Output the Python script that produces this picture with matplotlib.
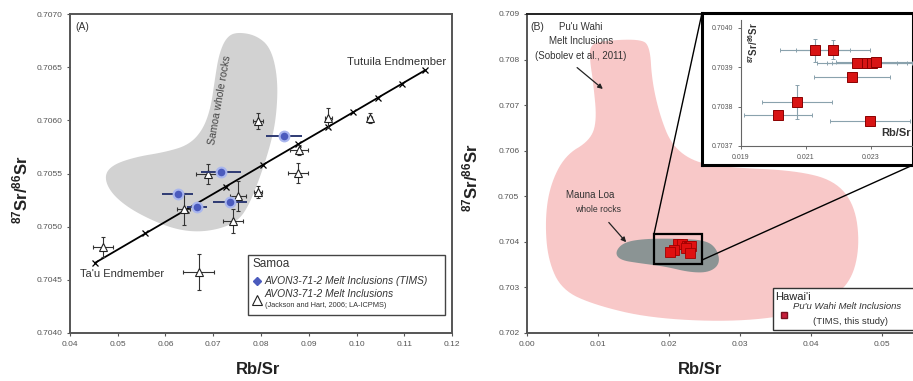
import matplotlib.pyplot as plt
import numpy as np
from matplotlib.patches import Polygon, Rectangle, ConnectionPatch
from matplotlib.ticker import FormatStrFormatter

plt.rcParams['font.family'] = ['Liberation Sans', 'DejaVu Sans']
plt.rcParams['mathtext.fontset'] = 'custom'
plt.rcParams['mathtext.rm'] = 'Liberation Sans'
plt.rcParams['mathtext.bf'] = 'Liberation Sans:bold'

# ---------------- Panel A : Samoa ----------------
# AVON3-71-2 melt inclusions, TIMS
tims_rbsr = [0.07158, 0.06253, 0.06653, 0.07347, 0.08484]
tims_sr = [0.705514, 0.705307, 0.705185, 0.705232, 0.705853]
tims_xerr = [0.0042, 0.0032, 0.0021, 0.0036, 0.0038]
tims_yerr = [0.00003, 0.00003, 0.00003, 0.00004, 0.00003]

# AVON3-71-2 melt inclusions, LA-ICPMS (Jackson and Hart 2006)
la_rbsr = [0.06884, 0.07937, 0.07937, 0.06379, 0.07411, 0.04695,
           0.06695, 0.08800, 0.08779, 0.09411, 0.10274, 0.07516]
la_sr = [0.705495, 0.705994, 0.705326, 0.705166, 0.705053, 0.704809,
         0.704574, 0.705721, 0.705505, 0.706022, 0.706022, 0.705288]
la_xerr = [0.0025, 0.0011, 0.0008, 0.0013, 0.0021, 0.0021,
           0.0032, 0.0019, 0.0021, 0.0008, 0.0006, 0.0017]
la_yerr = [0.000094, 0.000075, 0.000056, 0.00015, 0.00011, 0.000094,
           0.00017, 0.00005, 0.000094, 0.000094, 0.00005, 0.00014]

# Ta'u - Tutuila mixing line, tick positions
mix_rbsr = [0.04526, 0.05579, 0.06421, 0.07263, 0.08042, 0.08779,
            0.09411, 0.09937, 0.10442, 0.10947, 0.11432]
mix_sr = [0.704660, 0.704936, 0.705157, 0.705377, 0.705582, 0.705775,
          0.705940, 0.706078, 0.706211, 0.706343, 0.706470]

# Samoa whole rock field outline
samoa_wr_rbsr = [0.07474, 0.07895, 0.08211, 0.08358, 0.08316, 0.08168, 0.07958,
                 0.07747, 0.07537, 0.07200, 0.06737, 0.06274, 0.05789, 0.05221,
                 0.04842, 0.04716, 0.04884, 0.05368, 0.06000, 0.06484, 0.06779,
                 0.06947, 0.07032, 0.07116, 0.07263]
samoa_wr_sr = [0.706831, 0.706802, 0.706680, 0.706379, 0.706003, 0.705721, 0.705439,
               0.705204, 0.705063, 0.704987, 0.704950, 0.704969, 0.705044, 0.705176,
               0.705326, 0.705476, 0.705580, 0.705655, 0.705702, 0.705768, 0.705909,
               0.706116, 0.706379, 0.706614, 0.706774]

# ---------------- Panel B : Hawaii ----------------
# Pu'u Wahi melt inclusions (TIMS, this study)
pw_rbsr = [0.021277, 0.021831, 0.022569, 0.022877, 0.023031, 0.023154,
           0.022415, 0.020723, 0.020138, 0.022969]
pw_sr = [0.703943, 0.703945, 0.703910, 0.703910, 0.703912, 0.703914,
         0.703876, 0.703812, 0.703779, 0.703764]
pw_xerr = [0.00108, 0.00114, 0.00123, 0.00123, 0.00123, 0.00123,
           0.00118, 0.00108, 0.00105, 0.00123]
pw_yerr = [0.000029, 0.000024, 0.000006, 0.000006, 0.000006, 0.000006,
           0.000007, 0.000043, 0.000008, 0.000006]

# Pu'u Wahi melt inclusion field (Sobolev et al. 2011)
sobolev_rbsr = [0.00887, 0.01028, 0.01592, 0.01732, 0.01761, 0.01873, 0.02042,
                0.02366, 0.02859, 0.03775, 0.04338, 0.04620, 0.04690, 0.04577,
                0.04268, 0.03775, 0.02859, 0.01732, 0.00958, 0.00493, 0.00296,
                0.00254, 0.00324, 0.00535, 0.00887, 0.00986, 0.00930, 0.00887]
sobolev_sr = [0.708300, 0.708409, 0.708453, 0.708300, 0.707534, 0.706769, 0.706113,
              0.705741, 0.705631, 0.705566, 0.705347, 0.704800, 0.703925, 0.703159,
              0.702722, 0.702394, 0.702241, 0.702328, 0.702613, 0.702941, 0.703597,
              0.704472, 0.705238, 0.705894, 0.706222, 0.706659, 0.707534, 0.707972]

# Mauna Loa whole rock field
mauna_loa_rbsr = [0.01240, 0.01360, 0.01662, 0.02155, 0.02530, 0.02680,
                  0.02720, 0.02570, 0.02296, 0.01944, 0.01592, 0.01310]
mauna_loa_sr = [0.703772, 0.703990, 0.704070, 0.704070, 0.704030, 0.703836,
                0.703520, 0.703330, 0.703330, 0.703460, 0.703530, 0.703600]

# zoom box shown in panel B
zoom_rbsr = (0.01789, 0.02465)
zoom_sr = (0.70351, 0.704166)


def smooth(xs, ys, n=3):
    # chaikin corner cutting for the hand-traced fields
    pts = np.column_stack([xs, ys])
    for _ in range(n):
        nxt = np.roll(pts, -1, axis=0)
        new = np.empty((2 * len(pts), 2))
        new[0::2] = 0.75 * pts + 0.25 * nxt
        new[1::2] = 0.25 * pts + 0.75 * nxt
        pts = new
    return pts


def style_axes(ax):
    for s in ax.spines.values():
        s.set_color('#555555')
        s.set_linewidth(1.4)
    ax.tick_params(labelsize=6, colors='#555555', length=2, width=0.8)


SR_LABEL = r'$\mathbf{^{87}Sr/^{86}Sr}$'

fig = plt.figure(figsize=(9.13, 3.81), dpi=100)

# ======== panel A ========
axA = fig.add_axes([70/913, 48/381, 382/913, 319/381])
style_axes(axA)
axA.add_patch(Polygon(smooth(samoa_wr_rbsr, samoa_wr_sr), closed=True,
                      facecolor='#d2d2d2', edgecolor='none', zorder=1))
axA.plot(mix_rbsr, mix_sr, color='black', lw=1.3, zorder=3)
axA.plot(mix_rbsr, mix_sr, 'x', color='black', ms=5, mew=0.9, zorder=3)

axA.errorbar(la_rbsr, la_sr, xerr=la_xerr, yerr=la_yerr, fmt='^', ms=5.5,
             mfc='white', mec='#222222', mew=0.8, ecolor='#333333',
             elinewidth=0.8, capsize=1.5, zorder=4)
axA.errorbar(tims_rbsr, tims_sr, xerr=tims_xerr, yerr=tims_yerr, fmt='o', ms=7,
             mfc='#4b5bbd', mec='#a9b6ee', mew=1.5, ecolor='#2e3a73',
             elinewidth=1.4, capsize=0, zorder=5)

axA.set_xlim(0.04, 0.12)
axA.set_ylim(0.704, 0.707)
axA.set_xticks(np.arange(0.04, 0.1201, 0.01))
axA.set_yticks(np.arange(0.704, 0.70701, 0.0005))
axA.xaxis.set_major_formatter(FormatStrFormatter('%.2f'))
axA.yaxis.set_major_formatter(FormatStrFormatter('%.4f'))

axA.text(0.015, 0.975, '(A)', transform=axA.transAxes, fontsize=7.5,
         va='top', color='#333333')
axA.text(0.07137, 0.706191, 'Samoa whole rocks', rotation=80, fontsize=7.5,
         color='#444444', ha='center', va='center')
axA.text(0.10842, 0.706549, 'Tutuila Endmember', fontsize=8.2, color='#333333',
         ha='center', va='center')
axA.text(0.05095, 0.704555, "Ta'u Endmember", fontsize=8, color='#333333',
         ha='center', va='center')

# legend A
axA.add_patch(Rectangle((0.466, 0.056), 0.516, 0.189, transform=axA.transAxes,
                        facecolor='white', edgecolor='#444444', lw=1.0, zorder=6))
axA.text(0.478, 0.216, 'Samoa', transform=axA.transAxes, fontsize=8.5,
         color='#333333', va='center', zorder=7)
axA.plot([0.49], [0.163], 'D', transform=axA.transAxes, ms=4.5, color='#4b5bbd',
         zorder=7)
axA.text(0.51, 0.163, 'AVON3-71-2 Melt Inclusions (TIMS)', transform=axA.transAxes,
         fontsize=7.4, style='italic', color='#333333', va='center', zorder=7)
axA.plot([0.49], [0.105], '^', transform=axA.transAxes, ms=6.5, mfc='white',
         mec='#222222', mew=0.8, zorder=7)
axA.text(0.51, 0.121, 'AVON3-71-2 Melt Inclusions', transform=axA.transAxes,
         fontsize=7.4, style='italic', color='#333333', va='center', zorder=7)
axA.text(0.51, 0.085, '(Jackson and Hart, 2006; LA-ICPMS)', transform=axA.transAxes,
         fontsize=5.3, color='#333333', va='center', zorder=7)

fig.text(20/913, 1 - 190/381, SR_LABEL, rotation=90, fontsize=12,
         ha='center', va='center', color='#222222')
fig.text(258/913, 1 - 370/381, 'Rb/Sr', fontsize=12, fontweight='bold',
         ha='center', va='center', color='#222222')

# ======== panel B ========
axB = fig.add_axes([527/913, 48/381, 386/913, 319/381])
style_axes(axB)
axB.spines['right'].set_visible(False)
axB.spines['top'].set_color('#222222')
axB.add_patch(Polygon(smooth(sobolev_rbsr, sobolev_sr), closed=True,
                      facecolor='#f8c8c8', edgecolor='none', zorder=1))
axB.add_patch(Polygon(smooth(mauna_loa_rbsr, mauna_loa_sr), closed=True,
                      facecolor='#8b9494', edgecolor='none', zorder=2))
axB.plot(pw_rbsr, pw_sr, 's', ms=6.5, mfc='#e01010', mec='#a00000', mew=0.6, zorder=3)
axB.add_patch(Rectangle((zoom_rbsr[0], zoom_sr[0]), zoom_rbsr[1] - zoom_rbsr[0],
                        zoom_sr[1] - zoom_sr[0], facecolor='none',
                        edgecolor='black', lw=1.6, zorder=4))

axB.set_xlim(0, 0.0544)
axB.set_ylim(0.702, 0.709)
axB.set_xticks(np.arange(0, 0.0501, 0.01))
axB.set_yticks(np.arange(0.702, 0.70901, 0.001))
axB.xaxis.set_major_formatter(FormatStrFormatter('%.2f'))
axB.yaxis.set_major_formatter(FormatStrFormatter('%.3f'))

axB.text(0.008, 0.975, '(B)', transform=axB.transAxes, fontsize=7.5,
         va='top', color='#333333')
axB.text(0.00760, 0.708720, "Pu'u Wahi", fontsize=7, color='#333333',
         ha='center', va='center')
axB.text(0.00760, 0.708410, 'Melt Inclusions', fontsize=7, color='#333333',
         ha='center', va='center')
axB.text(0.00760, 0.708080, '(Sobolev et al., 2011)', fontsize=7, color='#333333',
         ha='center', va='center')
axB.annotate('', xy=(0.01099, 0.707316), xytext=(0.00676, 0.707863),
             arrowprops=dict(arrowstyle='-|>', color='#222222', lw=0.9,
                             mutation_scale=7))
axB.text(0.00887, 0.705030, 'Mauna Loa', fontsize=7, color='#333333',
         ha='center', va='center')
axB.text(0.01000, 0.704700, 'whole rocks', fontsize=6.2, color='#333333',
         ha='center', va='center')
axB.annotate('', xy=(0.01423, 0.703947), xytext=(0.01127, 0.704472),
             arrowprops=dict(arrowstyle='-|>', color='#222222', lw=0.9,
                             mutation_scale=7))

# legend B
axB.add_patch(Rectangle((0.637, 0.009), 0.40, 0.132, transform=axB.transAxes,
                        facecolor='white', edgecolor='#333333', lw=1.0, zorder=6))
axB.text(0.643, 0.114, "Hawai'i", transform=axB.transAxes, fontsize=8,
         color='#222222', va='center', zorder=7)
axB.plot([0.665], [0.056], 's', transform=axB.transAxes, ms=4.5, mfc='#c81e3c',
         mec='#7a1020', zorder=7)
axB.text(0.688, 0.082, "Pu'u Wahi Melt Inclusions", transform=axB.transAxes,
         fontsize=6.8, style='italic', color='#333333', va='center', zorder=7)
axB.text(0.837, 0.036, '(TIMS, this study)', transform=axB.transAxes,
         fontsize=6.8, color='#333333', ha='center', va='center', zorder=7)

fig.text(470/913, 1 - 178/381, SR_LABEL, rotation=90, fontsize=12,
         ha='center', va='center', color='#222222')
fig.text(700/913, 1 - 370/381, 'Rb/Sr', fontsize=12, fontweight='bold',
         ha='center', va='center', color='#222222')

# ======== inset ========
frame = fig.add_axes([702/913, 1 - 165/381, 1 - 702/913, 152/381])
frame.set_xticks([])
frame.set_yticks([])
for s in frame.spines.values():
    s.set_color('black')
    s.set_linewidth(2.2)

axI = fig.add_axes([741/913, 1 - 146/381, 1 - 741/913, 126/381])
axI.patch.set_alpha(0)
axI.spines['top'].set_visible(False)
axI.spines['right'].set_visible(False)
for s in ['left', 'bottom']:
    axI.spines[s].set_color('#666666')
    axI.spines[s].set_linewidth(0.8)
axI.tick_params(labelsize=5, colors='#555555', length=2, width=0.6)
axI.errorbar(pw_rbsr, pw_sr, xerr=pw_xerr, yerr=pw_yerr, fmt='s', ms=6.5,
             mfc='#d81414', mec='#8a0000', mew=0.7, ecolor='#8aa2ad',
             elinewidth=0.8, capsize=1.2, zorder=3)
axI.set_xlim(0.019, 0.02429)
axI.set_ylim(0.7037, 0.70402)
axI.set_xticks([0.019, 0.021, 0.023])
axI.set_yticks([0.7037, 0.7038, 0.7039, 0.7040])
axI.xaxis.set_major_formatter(FormatStrFormatter('%.3f'))
axI.yaxis.set_major_formatter(FormatStrFormatter('%.4f'))
axI.text(0.07, 0.82, SR_LABEL, transform=axI.transAxes, rotation=90,
         fontsize=7, ha='center', va='center', color='#333333')
axI.text(0.99, 0.06, 'Rb/Sr', transform=axI.transAxes, fontsize=8,
         fontweight='bold', ha='right', va='bottom', color='#333333')

# lines linking the zoom box to the inset
con1 = ConnectionPatch(xyA=(zoom_rbsr[0], zoom_sr[1]), coordsA=axB.transData,
                       xyB=(0, 1), coordsB=frame.transAxes, color='black', lw=1.0)
con2 = ConnectionPatch(xyA=(zoom_rbsr[1], 0.70360), coordsA=axB.transData,
                       xyB=(1, 0), coordsB=frame.transAxes, color='black', lw=1.0)
fig.add_artist(con1)
fig.add_artist(con2)

fig.savefig('out.png', dpi=100)
